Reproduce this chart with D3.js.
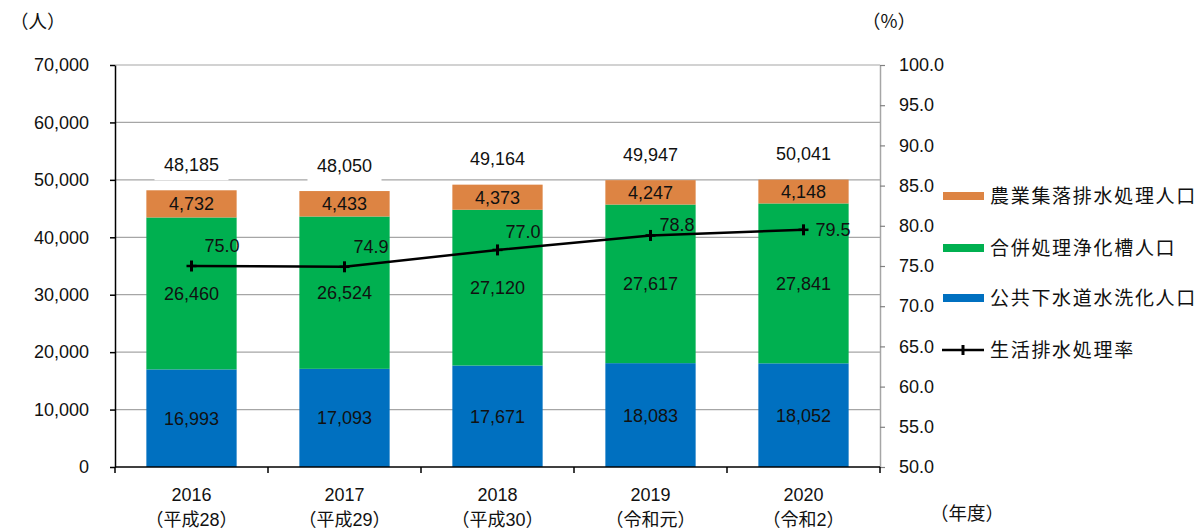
<!DOCTYPE html>
<html>
<head>
<meta charset="utf-8">
<script src="https://cdn.jsdelivr.net/npm/d3@7"></script>
<style>
  html, body { margin: 0; padding: 0; background: #fff; }
  svg { display: block; font-family: "Liberation Sans", Arial, "Noto Sans CJK JP", sans-serif; }
</style>
</head>
<body>
<svg id="chart" width="1200" height="529"></svg>
<script>
// Population served by each type of wastewater treatment, and the treatment rate
const years = ["2016", "2017", "2018", "2019", "2020"];
const eraLabels = ["（平成28）", "（平成29）", "（平成30）", "（令和元）", "（令和2）"];
const sewerage = [16993, 17093, 17671, 18083, 18052];       // 公共下水道水洗化人口
const johkasou = [26460, 26524, 27120, 27617, 27841];       // 合併処理浄化槽人口
const rural = [4732, 4433, 4373, 4247, 4148];               // 農業集落排水処理人口
const totals = [48185, 48050, 49164, 49947, 50041];
const rate = [75.0, 74.9, 77.0, 78.8, 79.5];                // 生活排水処理率
const leftTicks = [0, 10000, 20000, 30000, 40000, 50000, 60000, 70000];
const rightTicks = [50, 55, 60, 65, 70, 75, 80, 85, 90, 95, 100];

const seriesNames = ["公共下水道水洗化人口", "合併処理浄化槽人口", "農業集落排水処理人口"];
const seriesColors = ["#0070C0", "#00B050", "#DD8443"];

const svg = d3.select("#chart");
const plotLeft = 115, plotRight = 880, plotTop = 65, plotBottom = 467;
const FS = 18;

const x = d3.scaleBand().domain(years).range([plotLeft, plotRight]).paddingInner(0.41).paddingOuter(0.205);
const xCenter = d3.scaleBand().domain(years).range([plotLeft, plotRight]);
const y = d3.scaleLinear().domain([0, 70000]).range([plotBottom, plotTop]);
const y2 = d3.scaleLinear().domain([50, 100]).range([plotBottom, plotTop]);

// gridlines
svg.append("g").selectAll("line").data(leftTicks.filter(d => d > 0)).join("line")
  .attr("x1", plotLeft).attr("x2", plotRight)
  .attr("y1", d => y(d)).attr("y2", d => y(d))
  .attr("stroke", "#a6a6a6").attr("stroke-width", 1.2);

// stacked bars
const rows = years.map((yr, i) => ({ year: yr, s0: sewerage[i], s1: johkasou[i], s2: rural[i] }));
const stack = d3.stack().keys(["s0", "s1", "s2"])(rows);

const barG = svg.append("g");
stack.forEach((layer, li) => {
  barG.append("g").selectAll("rect").data(layer).join("rect")
    .attr("x", d => x(d.data.year))
    .attr("width", x.bandwidth())
    .attr("y", d => y(d[1]))
    .attr("height", d => y(d[0]) - y(d[1]))
    .attr("fill", seriesColors[li]);
});

// segment value labels
const fmt = d3.format(",");
stack.forEach((layer, li) => {
  svg.append("g").selectAll("text").data(layer).join("text")
    .attr("x", d => x(d.data.year) + x.bandwidth() / 2)
    .attr("y", d => (y(d[0]) + y(d[1])) / 2)
    .attr("dy", "0.36em")
    .attr("text-anchor", "middle")
    .attr("font-size", FS)
    .attr("fill", "#111")
    .text(d => fmt(d.data["s" + li]));
});

// total labels with white backing over the gridlines
const totG = svg.append("g").selectAll("g").data(years).join("g")
  .attr("transform", (d, i) => `translate(${x(d) + x.bandwidth() / 2},${y(totals[i]) - 26})`);
totG.append("rect").attr("x", -37).attr("y", -12).attr("width", 74).attr("height", 28).attr("fill", "#fff");
totG.append("text").attr("text-anchor", "middle").attr("dy", "0.36em")
  .attr("font-size", FS).attr("fill", "#111")
  .text((d, i) => fmt(totals[i]));

// left axis
const yAxis = svg.append("g").attr("transform", `translate(${plotLeft},0)`)
  .call(d3.axisLeft(y).tickValues(leftTicks).tickFormat(d3.format(",")).tickSizeInner(5).tickSizeOuter(0).tickPadding(21));
yAxis.select(".domain").attr("stroke", "#000").attr("stroke-width", 1.5);
yAxis.selectAll(".tick line").attr("stroke", "#000").attr("stroke-width", 1.5);
yAxis.selectAll("text").attr("font-size", FS).attr("fill", "#111").attr("font-family", "Liberation Sans, Arial, sans-serif");

// right axis
const y2Axis = svg.append("g").attr("transform", `translate(${plotRight},0)`)
  .call(d3.axisRight(y2).tickValues(rightTicks).tickFormat(d3.format(".1f")).tickSizeInner(5).tickSizeOuter(0).tickPadding(14));
y2Axis.select(".domain").attr("stroke", "#a6a6a6").attr("stroke-width", 1.5);
y2Axis.selectAll(".tick line").attr("stroke", "#808080").attr("stroke-width", 1.2);
y2Axis.selectAll("text").attr("font-size", FS).attr("fill", "#111").attr("font-family", "Liberation Sans, Arial, sans-serif");

// bottom axis
const xAxis = svg.append("g").attr("transform", `translate(0,${plotBottom})`);
xAxis.append("line").attr("x1", plotLeft).attr("x2", plotRight).attr("y1", 0).attr("y2", 0)
  .attr("stroke", "#000").attr("stroke-width", 1.5);
const boundaries = years.map(d => xCenter(d)).concat([plotRight]);
xAxis.selectAll("line.tk").data(boundaries).join("line").attr("class", "tk")
  .attr("x1", d => d).attr("x2", d => d).attr("y1", 0).attr("y2", 6)
  .attr("stroke", "#000").attr("stroke-width", 1.5);
const catLabels = xAxis.selectAll("g.cat").data(years).join("g").attr("class", "cat")
  .attr("transform", d => `translate(${xCenter(d) + xCenter.bandwidth() / 2},0)`);
catLabels.append("text").attr("y", 34).attr("text-anchor", "middle")
  .attr("font-size", FS).attr("fill", "#111").text(d => d);
catLabels.append("text").attr("y", 59).attr("text-anchor", "middle")
  .attr("font-size", FS).attr("fill", "#111").text((d, i) => eraLabels[i]);

// treatment-rate line
const pts = years.map((d, i) => [xCenter(d) + xCenter.bandwidth() / 2, y2(rate[i])]);
svg.append("path").datum(pts)
  .attr("d", d3.line())
  .attr("fill", "none").attr("stroke", "#000").attr("stroke-width", 2.5);
const mk = svg.append("g").selectAll("g").data(pts).join("g")
  .attr("transform", d => `translate(${d[0]},${d[1]})`);
mk.append("line").attr("x1", -5).attr("x2", 5).attr("y1", 0).attr("y2", 0).attr("stroke", "#000").attr("stroke-width", 2.5);
mk.append("line").attr("x1", 0).attr("x2", 0).attr("y1", -5.5).attr("y2", 5.5).attr("stroke", "#000").attr("stroke-width", 3);
// rate labels sit up and to the right of each marker, closer to the line as it rises
const rateLabelOffset = [[13, -20], [9, -20], [8, -18], [9, -11], [12, 0]];
svg.append("g").selectAll("text").data(pts).join("text")
  .attr("x", (d, i) => d[0] + rateLabelOffset[i][0])
  .attr("y", (d, i) => d[1] + rateLabelOffset[i][1]).attr("dy", "0.36em")
  .attr("font-size", FS).attr("fill", "#111")
  .text((d, i) => rate[i].toFixed(1));

// unit captions
const cap = (tx, ty, t) => svg.append("text").attr("x", tx).attr("y", ty).attr("font-size", 18.5)
  .attr("fill", "#111").attr("font-family", "Noto Sans CJK JP, sans-serif").text(t);
cap(10, 28, "（人）");
cap(862, 28, "（%）");
cap(930, 520, "（年度）");

// legend
const legendItems = [
  { name: seriesNames[2], color: seriesColors[2], y: 196 },
  { name: seriesNames[1], color: seriesColors[1], y: 248 },
  { name: seriesNames[0], color: seriesColors[0], y: 298 }
];
const lg = svg.append("g");
legendItems.forEach(it => {
  lg.append("rect").attr("x", 943).attr("y", it.y - 4).attr("width", 41).attr("height", 8).attr("fill", it.color);
  lg.append("text").attr("x", 990).attr("y", it.y).attr("dy", "0.36em")
    .attr("font-size", 19).attr("letter-spacing", 1.7).attr("fill", "#111")
    .attr("font-family", "Noto Sans CJK JP, sans-serif").text(it.name);
});
lg.append("line").attr("x1", 942).attr("x2", 984).attr("y1", 350).attr("y2", 350).attr("stroke", "#000").attr("stroke-width", 2.5);
lg.append("line").attr("x1", 963).attr("x2", 963).attr("y1", 345).attr("y2", 355).attr("stroke", "#000").attr("stroke-width", 3);
lg.append("text").attr("x", 990).attr("y", 350).attr("dy", "0.36em")
  .attr("font-size", 19).attr("letter-spacing", 1.7).attr("fill", "#111")
  .attr("font-family", "Noto Sans CJK JP, sans-serif").text("生活排水処理率");
</script>
</body>
</html>
